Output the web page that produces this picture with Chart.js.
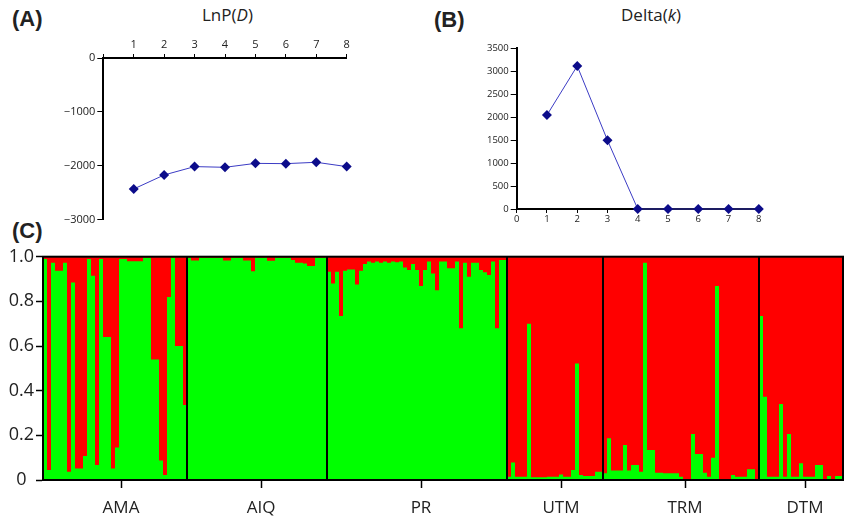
<!DOCTYPE html>
<html>
<head>
<meta charset="utf-8">
<script src="https://cdn.jsdelivr.net/npm/chart.js@4.4.0/dist/chart.umd.min.js"></script>
<style>
  body { margin: 0; background: #fff; width: 845px; height: 517px; position: relative; overflow: hidden; font-family: "Open Sans", sans-serif; color: #222; }
  .box { position: absolute; }
  .tag { position: absolute; font-family: "Liberation Sans", Arial, sans-serif; font-weight: bold; font-size: 22px; line-height: 1; }
  .ttl { position: absolute; font-size: 17px; line-height: 1; white-space: nowrap; }
</style>
</head>
<body>
<div class="tag" style="left:12px;top:8px">(A)</div>
<div class="tag" style="left:434px;top:9px">(B)</div>
<div class="tag" style="left:12px;top:220px">(C)</div>
<div class="ttl" style="left:202px;top:6px">LnP(<i>D</i>)</div>
<div class="ttl" style="left:621px;top:6px">Delta(<i>k</i>)</div>

<div class="box" style="left:0;top:25px;width:380px;height:210px"><canvas id="chartA"></canvas></div>
<div class="box" style="left:420px;top:25px;width:370px;height:210px"><canvas id="chartB"></canvas></div>
<div class="box" style="left:0;top:240px;width:845px;height:277px"><canvas id="chartC"></canvas></div>

<script>
// (A) and (B): mean LnP(D) and Delta K for each K
const kValues = [1, 2, 3, 4, 5, 6, 7, 8];
const lnPD = [-2430, -2170, -2015, -2028, -1955, -1960, -1935, -2015];
const deltaK = [2045, 3115, 1495, 0, 0, 0, 0, 0];

// (C): membership in the green cluster, one value per individual
const groupNames = ['AMA', 'AIQ', 'PR', 'UTM', 'TRM', 'DTM'];
const qAMA = [0.99, 0.045, 0.973, 0.937, 0.937, 0.973, 0.037, 0.885, 0.052, 0.052,
              0.107, 0.99, 0.915, 0.067, 0.99, 0.64, 0.64, 0.052, 0.146, 0.99,
              0.99, 0.98, 0.98, 0.98, 0.98, 0.995, 0.995, 0.54, 0.54, 0.087,
              0.022, 0.82, 0.995, 0.6, 0.6, 0.336];
const qAIQ = [0.995, 0.983, 0.983, 0.995, 0.995, 0.995, 0.995, 0.995, 0.995, 0.983,
              0.983, 0.995, 0.995, 0.995, 0.983, 0.983, 0.935, 0.995, 0.995, 0.995,
              0.982, 0.982, 0.995, 0.995, 0.995, 0.995, 0.985, 0.973, 0.973, 0.97,
              0.958, 0.958, 0.995, 0.995, 0.995];
const qPR = [0.933, 0.88, 0.933, 0.734, 0.937, 0.943, 0.943, 0.876, 0.937, 0.967,
             0.978, 0.973, 0.978, 0.973, 0.978, 0.973, 0.978, 0.975, 0.978, 0.952,
             0.94, 0.967, 0.94, 0.869, 0.94, 0.978, 0.925, 0.85, 0.978, 0.978,
             0.948, 0.948, 0.978, 0.68, 0.973, 0.91, 0.973, 0.973, 0.94, 0.93,
             0.918, 0.978, 0.68, 0.985, 0.985];
const qUTM = [0.015, 0.078, 0.015, 0.015, 0.015, 0.70, 0.012, 0.012, 0.012, 0.012,
              0.015, 0.015, 0.015, 0.025, 0.015, 0.015, 0.045, 0.522, 0.022, 0.018,
              0.018, 0.018, 0.037, 0.037];
const qTRM = [0.03, 0.187, 0.042, 0.042, 0.042, 0.157, 0.042, 0.067, 0.067, 0.037,
              0.973, 0.134, 0.134, 0.033, 0.033, 0.03, 0.03, 0.03, 0.03, 0.015,
              0.003, 0.003, 0.206, 0.116, 0.116, 0.033, 0.015, 0.1, 0.869, 0.003,
              0.003, 0.003, 0.022, 0.015, 0.015, 0.015, 0.048, 0.048, 0.005];
const qDTM = [0.734, 0.373, 0.015, 0.015, 0.015, 0.34, 0.015, 0.206, 0.015, 0.015,
              0.075, 0.015, 0.015, 0.015, 0.067, 0.067, 0.003, 0.018, 0.003, 0.018,
              0.018];

const LINE = '#3b3bc4';
const MARK = '#0c0c8a';
const GREEN = '#00ff00';
const RED = '#ff0000';

Chart.defaults.font.family = '"Open Sans", sans-serif';
Chart.defaults.color = '#222';

function lineDataset(values) {
    return {
        data: kValues.map((k, i) => ({ x: k, y: values[i] })),
        borderColor: LINE,
        borderWidth: 1,
        pointStyle: 'rectRot',
        pointRadius: 5,
        pointBackgroundColor: MARK,
        pointBorderColor: MARK,
        pointBorderWidth: 0,
        clip: false
    };
}

const axisBorder = { color: '#000', width: 2 };
const noPlugins = { legend: { display: false }, tooltip: { enabled: false } };

// Panel A
new Chart(document.getElementById('chartA'), {
    type: 'line',
    data: { datasets: [lineDataset(lnPD)] },
    options: {
        animation: false,
        responsive: true,
        maintainAspectRatio: false,
        layout: { padding: { left: 0, top: 0, right: 33.3, bottom: 15.3 } },
        plugins: noPlugins,
        scales: {
            x: {
                type: 'linear', position: 'top', min: 0, max: 8,
                border: axisBorder,
                grid: { drawOnChartArea: false, tickLength: 4, tickColor: '#000' },
                ticks: { stepSize: 1, padding: 3, font: { size: 11 }, callback: v => v === 0 ? '' : String(v) },
                afterFit: s => { s.height = 33; }
            },
            y: {
                min: -3000, max: 0,
                border: axisBorder,
                grid: { drawOnChartArea: false, tickLength: 6, tickColor: '#000' },
                ticks: { stepSize: 1000, padding: 2, font: { size: 11 }, callback: v => v < 0 ? '\u2212' + Math.abs(v) : String(v) },
                afterFit: s => { s.width = 103.3; }
            }
        }
    }
});

// Panel B
new Chart(document.getElementById('chartB'), {
    type: 'line',
    data: { datasets: [lineDataset(deltaK)] },
    options: {
        animation: false,
        responsive: true,
        maintainAspectRatio: false,
        layout: { padding: { left: 0, top: 23.3, right: 31.2, bottom: 0 } },
        plugins: noPlugins,
        scales: {
            x: {
                type: 'linear', min: 0, max: 8,
                border: axisBorder,
                grid: { drawOnChartArea: false, tickLength: 4, tickColor: '#000' },
                ticks: { stepSize: 1, padding: 1, font: { size: 9.5 }, callback: v => String(v) },
                afterFit: s => { s.height = 26; }
            },
            y: {
                min: 0, max: 3500,
                border: axisBorder,
                grid: { drawOnChartArea: false, tickLength: 6, tickColor: '#000' },
                ticks: { stepSize: 500, padding: 2, font: { size: 9.5 }, callback: v => String(v) },
                afterFit: s => { s.width = 96.7; }
            }
        }
    }
});

// Panel C
const groups = [qAMA, qAIQ, qPR, qUTM, qTRM, qDTM];
const groupSizes = groups.map(g => g.length);
const qAll = groups.flat();
const individuals = [];
const labelAt = {};
let start = 0;
groups.forEach((g, gi) => {
    g.forEach((_, j) => individuals.push(groupNames[gi] + (j + 1)));
    labelAt[Math.round(start + g.length / 2 + 0.5)] = groupNames[gi];
    start += g.length;
});

const structFrame = {
    id: 'structFrame',
    beforeDatasetsDraw(chart) {
        const { ctx, chartArea: a } = chart;
        ctx.save();
        ctx.fillStyle = RED;
        ctx.fillRect(a.left, a.top, a.right - a.left, a.bottom - a.top);
        ctx.restore();
    },
    afterDatasetsDraw(chart) {
        const { ctx, chartArea: a } = chart;
        const x = chart.scales.x;
        ctx.save();
        ctx.strokeStyle = '#000';
        ctx.lineWidth = 2;
        let n = 0;
        groupSizes.slice(0, -1).forEach(size => {
            n += size;
            const px = (x.getPixelForValue(n - 1) + x.getPixelForValue(n)) / 2;
            ctx.beginPath();
            ctx.moveTo(px, a.top);
            ctx.lineTo(px, a.bottom);
            ctx.stroke();
        });
        ctx.strokeRect(a.left, a.top, a.right - a.left, a.bottom - a.top);
        ctx.restore();
    }
};

new Chart(document.getElementById('chartC'), {
    type: 'bar',
    data: {
        labels: individuals,
        datasets: [
            { data: qAll, backgroundColor: GREEN, stack: 'q' },
            { data: qAll.map(v => 1 - v), backgroundColor: RED, stack: 'q' }
        ]
    },
    options: {
        animation: false,
        responsive: true,
        maintainAspectRatio: false,
        layout: { padding: { left: 0, top: 16.7, right: 2, bottom: 0 } },
        plugins: noPlugins,
        datasets: { bar: { barPercentage: 1, categoryPercentage: 1, borderWidth: 0, inflateAmount: 0 } },
        scales: {
            x: {
                stacked: true,
                border: axisBorder,
                grid: {
                    offset: false, drawOnChartArea: false, tickLength: 8, tickWidth: 1.5,
                    tickColor: c => labelAt[c.index] ? '#000' : 'rgba(0,0,0,0)'
                },
                ticks: {
                    autoSkip: false, maxRotation: 0, minRotation: 0, padding: 0,
                    font: { size: 17, lineHeight: 2.35 },
                    callback: (v, i) => labelAt[i] || ''
                },
                afterFit: s => { s.height = 37; }
            },
            y: {
                stacked: true, min: 0, max: 1,
                border: axisBorder,
                grid: { drawOnChartArea: false, tickLength: 7, tickWidth: 1.5, tickColor: '#000' },
                ticks: {
                    stepSize: 0.2, crossAlign: 'center', padding: 2,
                    font: { size: 18 },
                    callback: v => v === 0 ? '0' : v.toFixed(1)
                },
                afterFit: s => { s.width = 43; }
            }
        }
    },
    plugins: [structFrame]
});
</script>
</body>
</html>
